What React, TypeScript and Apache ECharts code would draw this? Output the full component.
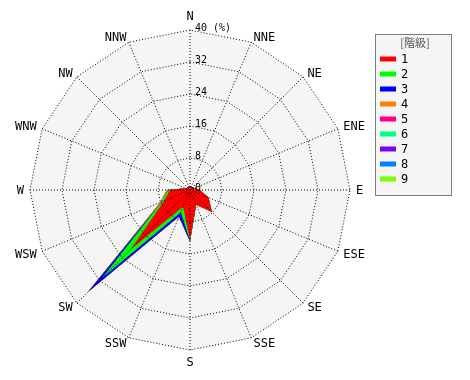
import React, { useEffect, useRef } from "react";
import * as echarts from "echarts";

// Compass directions (clockwise from N)
const directions = ["N", "NNE", "NE", "ENE", "E", "ESE", "SE", "SSE", "S", "SSW", "SW", "WSW", "W", "WNW", "NW", "NNW"];
// Frequency (%) per class, in compass order
const class1 = [1.0, 0.8, 1.0, 1.2, 2.5, 5.0, 7.7, 4.0, 12.5, 4.5, 21.0, 7.0, 5.0, 1.0, 0.8, 0.8];
const class2 = [0, 0, 0, 0, 0, 0, 0, 0, 0.2, 1.5, 10.0, 0.6, 0.5, 0.1, 0, 0];
const class3 = [0, 0, 0, 0, 0, 0, 0, 0, 0.2, 1.2, 5.0, 0, 0, 0, 0, 0];
const class4 = [0, 0, 0, 0, 0, 0, 0, 0, 0, 0, 0, 0.4, 0.3, 0, 0, 0];
const class5 = [0, 0, 0, 0, 0, 0, 0, 0, 0, 0, 0, 0, 0, 0, 0, 0];
const class6 = [0, 0, 0, 0, 0, 0, 0, 0, 0, 0, 0, 0, 0, 0, 0, 0];
const class7 = [0, 0, 0, 0, 0, 0, 0, 0, 0, 0, 0, 0, 0, 0, 0, 0];
const class8 = [0, 0, 0, 0, 0, 0, 0, 0, 0, 0, 0, 0, 0, 0, 0, 0];
const class9 = [0, 0, 0, 0, 0, 0, 0, 0, 0, 0, 0, 0, 0, 0, 0, 0];
const classNames = ["1", "2", "3", "4", "5", "6", "7", "8", "9"];
const classColors = ["#ff0000", "#00ff00", "#0000ff", "#ff8000", "#ff0080", "#00ff80", "#8000ff", "#0080ff", "#80ff00"];
const tickValues = [0, 8, 16, 24, 32, 40];
const maxValue = 40;
const legendTitle = "[階級]";

export default function App() {
  const ref = useRef<HTMLDivElement>(null);
  useEffect(() => {
    if (!ref.current) return;
    const chart = echarts.init(ref.current, null, { renderer: "svg" });
    const classes = [class1, class2, class3, class4, class5, class6, class7, class8, class9];
    const cumulative: number[][] = [];
    classes.forEach((arr, k) => {
      cumulative.push(arr.map((v, i) => v + (k > 0 ? cumulative[k - 1][i] : 0)));
    });
    // ECharts radar goes counter-clockwise: reorder
    const order = directions.map((_, i) => (directions.length - i) % directions.length);
    const makeIndicators = (withLabels: boolean) =>
      order.map((idx, j) => {
        const ind: any = { name: withLabels ? directions[idx] : "", max: maxValue, min: 0 };
        if (j === 0 && withLabels) {
          ind.axisLabel = {
            show: true,
            color: "#000",
            fontFamily: "DejaVu Sans Mono",
            fontSize: 10,
            margin: -5,
            align: "left",
            verticalAlign: "bottom",
            lineHeight: 6,
            formatter: (v: number) => (v === maxValue ? `${v} (%)` : tickValues.includes(v) ? String(v) : ""),
          };
        }
        return ind;
      });
    const series: any[] = [];
    for (let k = classes.length - 1; k >= 0; k--) {
      series.push({
        type: "radar",
        name: classNames[k],
        radarIndex: 0,
        z: 1,
        symbol: "none",
        silent: true,
        itemStyle: { color: classColors[k] },
        lineStyle: { width: 0, color: classColors[k] },
        areaStyle: { color: classColors[k], opacity: 1 },
        data: [{ name: classNames[k], value: order.map((idx) => cumulative[k][idx]) }],
      });
    }
    const common = {
      center: [190, 190],
      radius: 160,
      startAngle: 90,
      shape: "polygon",
      splitNumber: 5,
      axisTick: { show: false },
      axisLine: { show: false },
    };
    chart.setOption({
      animation: false,
      radar: [
        {
          ...common,
          z: 0,
          indicator: makeIndicators(false),
          axisName: { show: false },
          splitLine: { show: false },
          splitArea: { show: true, areaStyle: { color: ["#f5f5f5"] } },
          axisLabel: { show: false },
        },
        {
          ...common,
          z: 3,
          indicator: makeIndicators(true),
          axisName: { color: "#000", fontFamily: "DejaVu Sans Mono", fontSize: 12 },
          nameGap: 6,
          splitLine: { show: true, lineStyle: { color: "#000", type: [1, 2], width: 1 } },
          splitArea: { show: false },
          axisLabel: { show: false },
        },
      ],
      polar: { center: [190, 190], radius: 160 },
      angleAxis: {
        type: "category",
        data: directions,
        startAngle: 90,
        clockwise: true,
        boundaryGap: false,
        z: 3,
        axisLine: { show: false },
        axisTick: { show: false, interval: 0 },
        axisLabel: { show: false, interval: 0 },
        splitLine: { show: true, interval: 0, lineStyle: { color: "#000", type: [1, 2], width: 1 } },
      },
      radiusAxis: { show: false, min: 0, max: maxValue },
      legend: {
        orient: "vertical",
        left: 380,
        top: 53,
        padding: 0,
        itemWidth: 16,
        itemHeight: 5,
        itemGap: 3,
        icon: "rect",
        data: classNames,
        selectedMode: false,
        textStyle: { fontFamily: "DejaVu Sans Mono", fontSize: 12, lineHeight: 12, color: "#000" },
      },
      graphic: [
        {
          type: "rect",
          z: -1,
          shape: { x: 375.5, y: 34.5, width: 76, height: 161 },
          style: { fill: "#f5f5f5", stroke: "#000", lineWidth: 1, lineDash: [1, 1] },
        },
        {
          type: "text",
          x: 415,
          y: 42,
          style: {
            text: legendTitle,
            fill: "#555",
            font: '11px "Noto Sans CJK JP"',
            textAlign: "center",
            textVerticalAlign: "middle",
          },
        },
      ],
      series,
    });
    return () => chart.dispose();
  }, []);
  return <div ref={ref} style={{ position: "fixed", left: 0, top: 0, width: 470, height: 380 }} />;
}
